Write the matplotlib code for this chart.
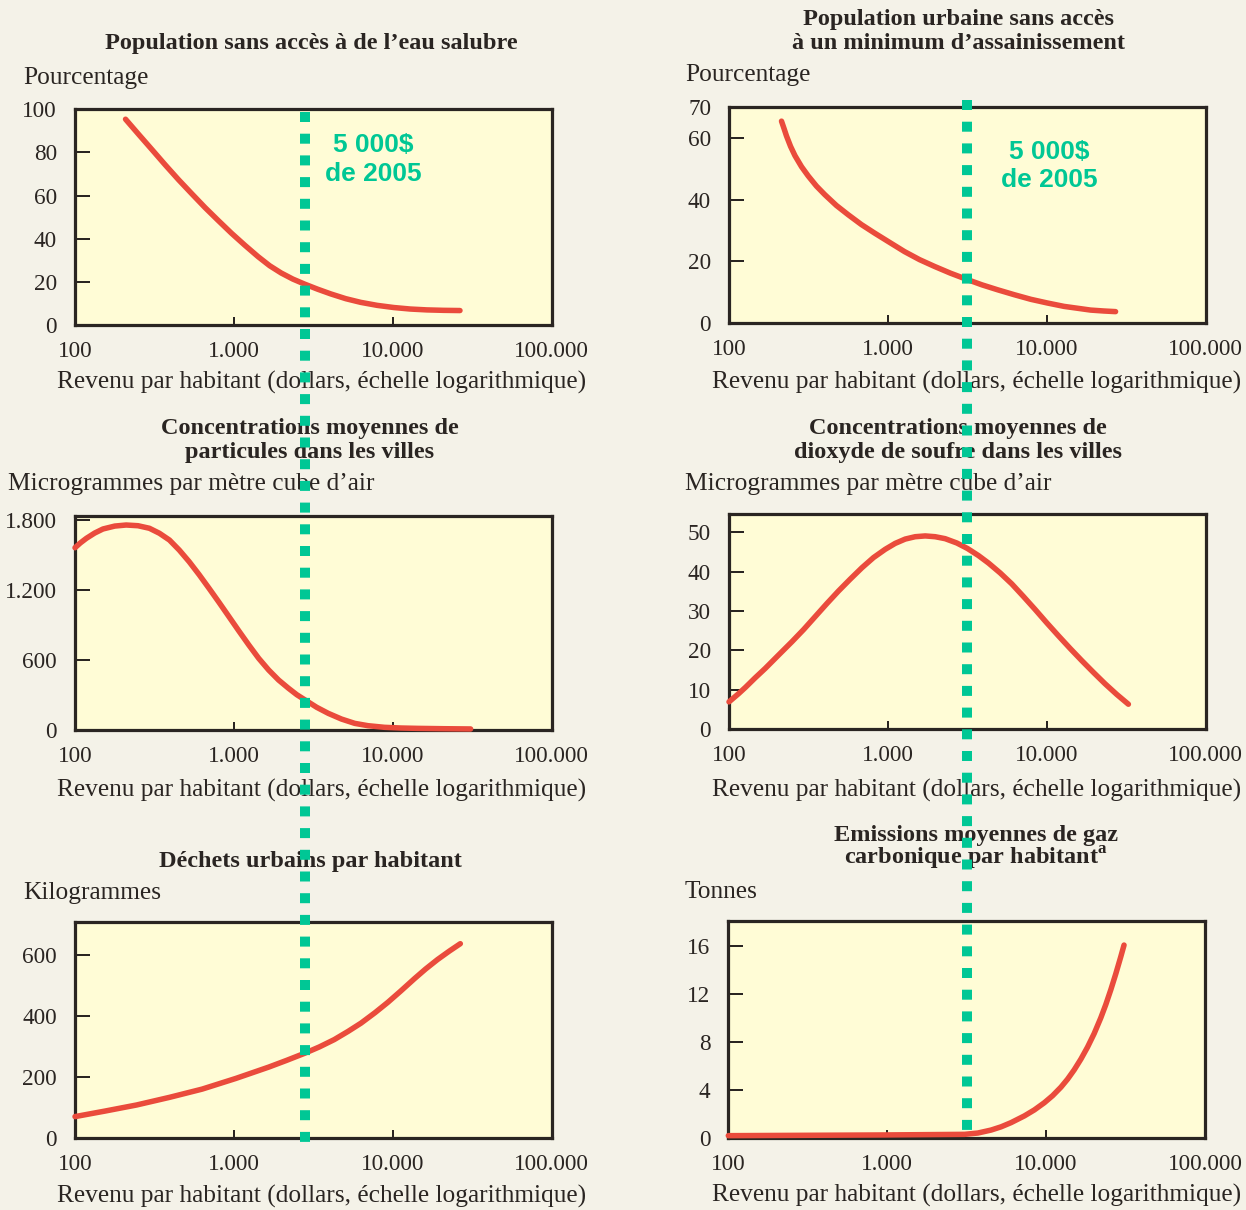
import matplotlib
matplotlib.use("Agg")
import matplotlib.pyplot as plt
from matplotlib.lines import Line2D

W, H, DPI = 1246, 1210, 100

# ---------------- data ----------------
income_ticks = [100, 1000, 10000, 100000]
income_tick_labels = ["100", "1.000", "10.000", "100.000"]
xlabel_text = "Revenu par habitant (dollars, échelle logarithmique)"

# 1. Population sans accès à de l'eau salubre (pourcentage)
water_income = [208, 252, 306, 370, 449, 544, 659, 798, 967, 1171, 1419, 1678, 1985, 2348,
                2778, 3365, 4076, 5058, 6278, 7979, 10140, 12890, 16380, 20820, 26470]
water_pct = [95.4, 88.3, 81.2, 74.2, 67.3, 60.8, 54.4, 48.4, 42.5, 37.0, 31.7, 27.5, 24.1, 21.3,
             19.0, 16.6, 14.4, 12.2, 10.5, 9.1, 8.1, 7.4, 7.0, 6.8, 6.7]

# 2. Population urbaine sans accès à un minimum d'assainissement (pourcentage)
sanit_income = [214, 222, 230, 244, 260, 286, 315, 355, 401, 474, 562, 681, 826, 1025, 1273,
                1581, 1963, 2474, 3131, 3908, 4900, 6235, 7932, 10090, 12840, 15570, 18870,
                22880, 27090]
sanit_pct = [65.5, 63.1, 60.7, 57.3, 54.3, 50.7, 47.7, 44.4, 41.6, 38.1, 35.1, 31.9, 29.1, 26.1,
             23.1, 20.5, 18.3, 16.1, 14.1, 12.3, 10.7, 9.1, 7.6, 6.4, 5.3, 4.7, 4.1, 3.8, 3.6]

# 3. Concentrations moyennes de particules dans les villes (microgrammes / m3)
part_income = [100, 108, 118, 133, 150, 178, 210, 249, 294, 340, 393, 453, 523, 604, 698, 806,
               931, 1075, 1241, 1433, 1655, 1911, 2207, 2488, 2805, 3318, 3925, 4754, 5759,
               6980, 8870, 11270, 14330, 21030, 30880]
part_conc = [1565, 1606, 1646, 1691, 1726, 1751, 1760, 1754, 1732, 1689, 1631, 1545, 1445, 1334,
             1216, 1096, 973, 850, 730, 615, 515, 429, 358, 303, 258, 195, 143, 94, 57, 37, 23,
             17, 14, 11, 9]

# 4. Concentrations moyennes de dioxyde de soufre dans les villes (microgrammes / m3)
so2_income = [100, 115, 127, 146, 169, 205, 249, 295, 349, 413, 489, 579, 686, 812, 962, 1111,
              1285, 1485, 1717, 1984, 2293, 2716, 3169, 3716, 4296, 5085, 6022, 7129, 8442,
              9995, 11840, 14010, 16590, 19650, 23260, 27540, 32620]
so2_conc = [6.9, 9.0, 10.6, 13.0, 15.4, 18.8, 22.2, 25.3, 28.6, 31.9, 35.1, 38.1, 41.0, 43.6,
            45.7, 47.2, 48.3, 48.9, 49.1, 48.9, 48.4, 47.3, 45.9, 44.1, 42.2, 39.7, 36.9, 33.7,
            30.4, 27.0, 23.7, 20.5, 17.4, 14.4, 11.5, 8.8, 6.3]

# 5. Déchets urbains par habitant (kilogrammes)
waste_income = [100, 154, 244, 393, 631, 1029, 1655, 2144, 2779, 3447, 4278, 5233, 6310, 7720,
                9306, 11220, 13720, 16080, 19110, 22720, 26610]
waste_kg = [71, 89, 109, 134, 161, 196, 233, 255, 278, 299, 323, 350, 377, 411, 445, 482, 523,
            554, 585, 613, 637]

# 6. Emissions moyennes de gaz carbonique par habitant (tonnes)
co2_income = [100, 966, 3069, 3720, 4510, 5212, 6021, 7299, 8433, 9743, 10990, 12400, 13650,
              15030, 16550, 18220, 20070, 22090, 23750, 25530, 27440, 29490, 30940]
co2_t = [0.17, 0.23, 0.28, 0.39, 0.64, 0.91, 1.26, 1.82, 2.32, 2.92, 3.51, 4.22, 4.89, 5.67,
         6.56, 7.56, 8.70, 10.01, 11.12, 12.35, 13.68, 15.10, 16.09]

titles = [
    ["Population sans accès à de l’eau salubre"],
    ["Population urbaine sans accès", "à un minimum d’assainissement"],
    ["Concentrations moyennes de", "particules dans les villes"],
    ["Concentrations moyennes de", "dioxyde de soufre dans les villes"],
    ["Déchets urbains par habitant"],
    ["Emissions moyennes de gaz", r"carbonique par habitant$^{\mathrm{a}}$"],
]
units = ["Pourcentage", "Pourcentage", "Microgrammes par mètre cube d’air",
         "Microgrammes par mètre cube d’air", "Kilogrammes", "Tonnes"]

p1_yticks = [0, 20, 40, 60, 80, 100]
p2_yticks = [0, 20, 40, 60, 70]
p3_yticks = [0, 600, 1200, 1800]
p3_ylabels = ["0", "600", "1.200", "1.800"]
p4_yticks = [0, 10, 20, 30, 40, 50]
p5_yticks = [0, 200, 400, 600]
p6_yticks = [0, 4, 8, 12, 16]

marker_income = [2800, 3150]   # green reference line (left / right column)
marker_text = "5 000$\nde 2005"

# ---------------- style ----------------
BG = "#F4F2E8"
AX_BG = "#FFFCD6"
INK = "#2A2522"
RED = "#EA4B3C"
GREEN = "#00C795"
SERIF = "Liberation Serif"
SANS = "Liberation Sans"

plt.rcParams["mathtext.fontset"] = "custom"
plt.rcParams["mathtext.rm"] = SERIF + ":bold"
plt.rcParams["mathtext.bf"] = SERIF + ":bold"

fig = plt.figure(figsize=(W / DPI, H / DPI), dpi=DPI, facecolor=BG)
renderer = fig.canvas.get_renderer()


def px(v):
    return v * 72.0 / DPI


def size_for(s, target_w, **kw):
    t = fig.text(0, 0, s, fontsize=20, **kw)
    w = t.get_window_extent(renderer).width
    t.remove()
    return 20 * target_w / w


REG = size_for(xlabel_text, 531, family=SERIF)
BOLD = size_for("Population sans accès à de l’eau salubre", 412, family=SERIF, weight="bold")
TICK = size_for("100.000", 75, family=SERIF)


def ftext(x, y, s, **kw):
    return fig.text(x / W, 1 - y / H, s, **kw)


def make_axes(box):
    l, t, r, b = box
    ax = fig.add_axes([l / W, 1 - b / H, (r - l) / W, (b - t) / H])
    ax.set_facecolor(AX_BG)
    for sp in ax.spines.values():
        sp.set_color(INK)
        sp.set_linewidth(px(3.2))
    ax.set_xscale("log")
    ax.set_xlim(100, 100000)
    ax.set_xticks(income_ticks)
    ax.set_xticklabels(income_tick_labels)
    ax.xaxis.set_minor_locator(matplotlib.ticker.NullLocator())
    ax.tick_params(axis="x", direction="in", length=px(8), width=px(2), color=INK,
                   pad=px(16), labelsize=TICK, labelcolor=INK)
    ax.tick_params(axis="y", direction="in", length=px(15), width=px(2), color=INK,
                   pad=px(18), labelsize=TICK, labelcolor=INK)
    for lab in ax.get_xticklabels() + ax.get_yticklabels():
        lab.set_family(SERIF)
    return ax


boxes = [
    (75, 109.3, 551.7, 325),
    (729, 107.3, 1205.7, 322.7),
    (75, 515.7, 551.7, 730),
    (729, 514.3, 1205.7, 729),
    (75, 922.3, 551.7, 1138.3),
    (728.3, 921, 1205, 1137.7),
]
series = [
    (water_income, water_pct, (0, 100), p1_yticks, [str(v) for v in p1_yticks]),
    (sanit_income, sanit_pct, (0, 70), p2_yticks, [str(v) for v in p2_yticks]),
    (part_income, part_conc, (0, 1840), p3_yticks, p3_ylabels),
    (so2_income, so2_conc, (0, 54.6), p4_yticks, [str(v) for v in p4_yticks]),
    (waste_income, waste_kg, (0, 707), p5_yticks, [str(v) for v in p5_yticks]),
    (co2_income, co2_t, (0, 18.1), p6_yticks, [str(v) for v in p6_yticks]),
]

axes = []
for box, (xs, ys, ylim, yt, ytl) in zip(boxes, series):
    ax = make_axes(box)
    ax.set_ylim(*ylim)
    ax.set_yticks(yt)
    ax.set_yticklabels(ytl, family=SERIF)
    ax.plot(xs, ys, color=RED, lw=px(5.5), solid_capstyle="round", solid_joinstyle="round",
            clip_on=False, zorder=3)
    axes.append(ax)

# titles (baselines in px) and units
title_pos = [
    (311, [49]), (958, [24.5, 49]), (310, [434, 458]),
    (958, [433.5, 458]), (310, [866.5]), (976, [840.5, 865]),
]
for lines, (cx, ys) in zip(titles, title_pos):
    for s, y in zip(lines, ys):
        ftext(cx, y, s, ha="center", va="baseline", family=SERIF, weight="bold",
              fontsize=BOLD, color=INK)

unit_pos = [(23, 84), (685, 81), (8, 490), (685, 490), (23, 899), (685, 898)]
for s, (x, y) in zip(units, unit_pos):
    ftext(x, y, s, ha="left", va="baseline", family=SERIF, fontsize=REG, color=INK)

xlabel_pos = [(322, 389), (977, 388.5), (322, 796.5), (977, 796.5), (322, 1203), (977, 1201.5)]
for (x, y) in xlabel_pos:
    ftext(x, y, xlabel_text, ha="center", va="baseline", family=SERIF, fontsize=REG, color=INK)

# green reference lines (figure-level, x taken from the axes' data scale)
inv = fig.transFigure.inverted()
for col, (ax_top, y_top, y_bot) in enumerate([(axes[0], 111.7, 1142), (axes[1], 100, 1135)]):
    xd = ax_top.transData.transform((marker_income[col], 1))[0]
    xf = inv.transform((xd, 0))[0]
    ln = Line2D([xf, xf], [1 - y_top / H, 1 - y_bot / H], transform=fig.transFigure,
                color=GREEN, lw=px(10), linestyle=(0, (1.0, 1.17)),
                dash_capstyle="butt", zorder=10)
    fig.add_artist(ln)

axes[0].text(0.625, 0.767, marker_text, transform=axes[0].transAxes, ha="center", va="center",
             family=SANS, weight="bold", fontsize=19, color=GREEN, linespacing=1.25, zorder=11)
axes[1].text(0.671, 0.727, marker_text, transform=axes[1].transAxes, ha="center", va="center",
             family=SANS, weight="bold", fontsize=19, color=GREEN, linespacing=1.25, zorder=11)

fig.savefig("out.png", dpi=DPI, facecolor=BG)
